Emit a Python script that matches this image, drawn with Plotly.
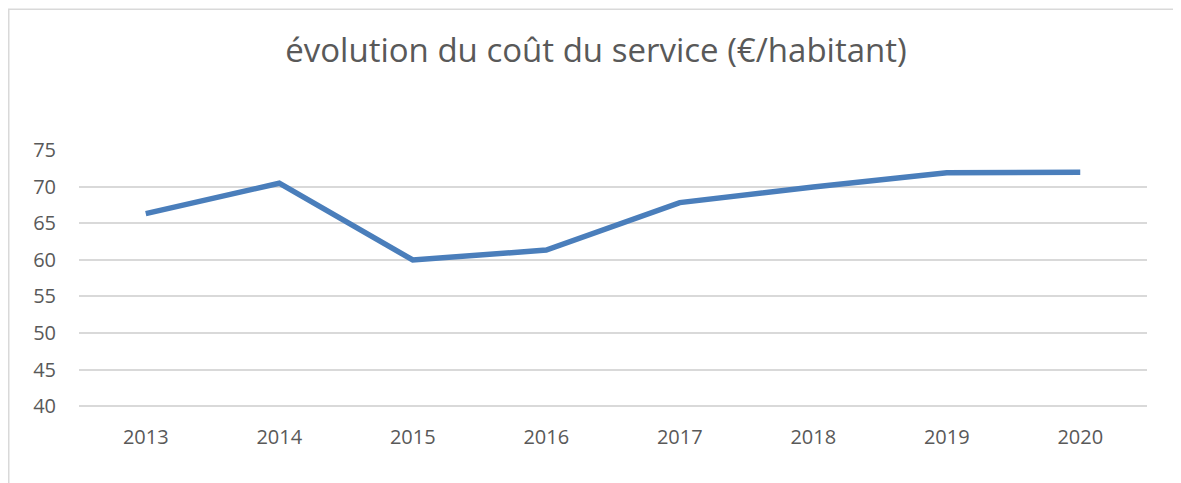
import plotly.graph_objects as go

years = ["2013", "2014", "2015", "2016", "2017", "2018", "2019", "2020"]
cost_per_inhabitant = [66.35, 70.5, 60.0, 61.35, 67.85, 70.0, 71.95, 72.0]
y_ticks = [40, 45, 50, 55, 60, 65, 70, 75]

title_text = "évolution du coût du service (€/habitant)"

fig = go.Figure()
fig.add_trace(go.Scatter(
    x=years, y=cost_per_inhabitant, mode="lines",
    line=dict(color="#4A7EBB", width=5.5),
    showlegend=False, hoverinfo="x+y",
))

# page body has an 8px margin; figure origin is at page (8, 8)
OFF = 8
W, H = 1181 - OFF, 483 - OFF
y_lo, y_hi = 39.6, 75.05
px_per_unit = 256 / 35.0
left, right = 79 - OFF, 1147 - OFF
top = 150 - (y_hi - 75) * px_per_unit - OFF
bottom = 406 + (40 - y_lo) * px_per_unit - OFF
ml, mr, mt, mb = left, W - right, top, H - bottom

fig.update_layout(
    width=W, height=H,
    margin=dict(l=ml, r=mr, t=mt, b=mb, pad=0),
    paper_bgcolor="white", plot_bgcolor="white",
    title=dict(text=title_text, x=(596 - OFF) / W, xanchor="center",
               y=1 - (50 - OFF) / H, yanchor="middle",
               font=dict(family="Open Sans", size=33, color="#595959")),
    xaxis=dict(type="category", range=[-0.5, 7.5], showgrid=False, zeroline=False,
               showline=False, ticks="", tickfont=dict(family="Open Sans", size=20, color="#595959"),
               ticklabelstandoff=14),
    yaxis=dict(range=[y_lo, y_hi], tickvals=y_ticks, showgrid=True, gridcolor="#D9D9D9", gridwidth=1.5,
               zeroline=False, showline=False, ticks="",
               tickfont=dict(family="Open Sans", size=20, color="#595959"),
               ticklabelstandoff=22),
    font=dict(family="Open Sans", color="#595959"),
)

# chart-area border (cropped at right/bottom in the reference)
pw, ph = W - ml - mr, H - mt - mb
fig.add_shape(type="rect", xref="paper", yref="paper",
              x0=(0.75 - ml) / pw, x1=(1300 - ml) / pw,
              y0=-(600 - bottom) / ph, y1=(bottom - 0.75) / ph,
              line=dict(color="#D9D9D9", width=1.5), fillcolor="rgba(0,0,0,0)", layer="below")

fig.write_html("out.html")
